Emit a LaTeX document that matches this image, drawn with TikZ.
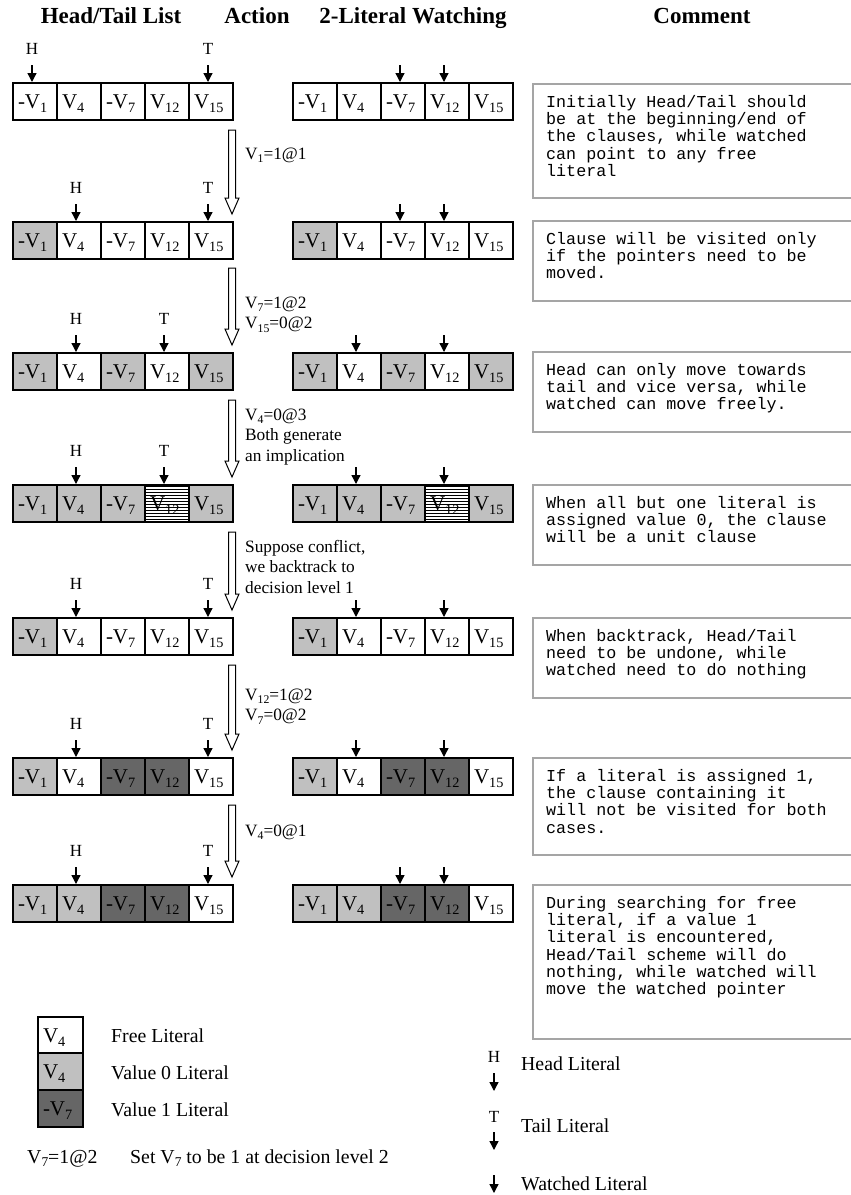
\documentclass[tikz,border=0pt]{standalone}
\usepackage{fontspec}
\usepackage{graphicx}
\setmainfont{Liberation Serif}
\newfontfamily\monofont{Liberation Mono}
\usetikzlibrary{arrows.meta,patterns}
\definecolor{zerogray}{RGB}{192,192,192}
\definecolor{onegray}{RGB}{102,102,102}
\definecolor{boxgray}{RGB}{165,165,165}
\newcommand\subs[1]{\raisebox{-0.2em}{\scalebox{0.68}{#1}}}
\newcommand\cellfont{\fontsize{21}{25}\selectfont}
\newcommand\lblfont{\fontsize{17}{20}\selectfont}
\newcommand\actfont{\fontsize{17.3}{20.3}\selectfont}
\newcommand\legfont{\fontsize{19.8}{23}\selectfont}
\newcommand\headfont{\fontsize{23}{27}\selectfont\bfseries}
\newcommand\comfont{\monofont\fontsize{16.7}{17.3}\selectfont}
\newcommand\cellname[1]{\ifcase#1\or -V\subs{1}\or V\subs{4}\or -V\subs{7}\or V\subs{12}\or V\subs{15}\fi}
\tikzset{
  x=1pt,y=-1pt,
  cell/.style={draw, line width=1.3pt, minimum height=37pt, text width=34pt,
    inner xsep=5pt, inner ysep=0pt, outer sep=0pt, align=left, anchor=north west,
    font=\cellfont, text height=14pt, text depth=0pt},
  free/.style={fill=white},
  zero/.style={fill=zerogray},
  one/.style={fill=onegray},
  hatch/.style={pattern=horizontal lines},
  ptr/.style={line width=1.3pt, -{Triangle[width=9pt,length=9pt]}},
  plabel/.style={font=\lblfont, anchor=base, inner sep=0pt},
  cbox/.style={draw=boxgray, line width=1.5pt, anchor=north west, minimum width=330pt,
    inner sep=0pt, outer sep=0pt},
  ctext/.style={font=\comfont, anchor=north west, align=left, inner sep=0pt},
  hollow/.style={draw, line width=1pt, fill=white},
  act/.style={font=\actfont, anchor=north west, align=left, inner sep=0pt},
  head/.style={font=\headfont, anchor=base, inner sep=0pt},
  leg/.style={font=\legfont, anchor=base west, inner sep=0pt},
}
\newcommand\clauserow[4]{%
  \foreach \sty [count=\i] in {#4} {%
    \pgfmathsetmacro\cx{#2+44*(\i-1)}%
    \node[cell,\sty] (#1c\i) at (\cx,#3) {\cellname{\i}};
  }}
\newcommand\pointer[2]{%
  \draw[ptr] ([xshift=-3pt,yshift=18pt]#1.north) coordinate (#1p) -- ([xshift=-3pt,yshift=1pt]#1.north);}
\newcommand\ptrlabel[2]{%
  \node[plabel] (#1l) at ([xshift=-3pt,yshift=29pt]#1.north) {#2};}
\newcommand\hollowarrow[3]{%
  \draw[hollow] ({#1-3.5},#2) -- ({#1+3.5},#2) -- ({#1+3.5},{#3-16}) -- ({#1+7},{#3-16})
    -- (#1,#3) -- ({#1-7},{#3-16}) -- ({#1-3.5},{#3-16}) -- cycle;}
\begin{document}
\begin{tikzpicture}
\useasboundingbox (0,0) rectangle (851,1195);
% headers
\node[head] (h1) at (111,23) {Head/Tail List};
\node[head] (h2) at (257,23) {Action};
\node[head] (h3) at (413,23) {2-Literal Watching};
\node[head] (h4) at (702,23) {Comment};

% row 1
\clauserow{a}{13}{83}{free,free,free,free,free}
\clauserow{b}{293}{83}{free,free,free,free,free}
\pointer{ac1}{} \ptrlabel{ac1}{H}
\pointer{ac5}{} \ptrlabel{ac5}{T}
\pointer{bc3}{} \pointer{bc4}{}
% row 2
\clauserow{c}{13}{222}{zero,free,free,free,free}
\clauserow{d}{293}{222}{zero,free,free,free,free}
\pointer{cc2}{} \ptrlabel{cc2}{H}
\pointer{cc5}{} \ptrlabel{cc5}{T}
\pointer{dc3}{} \pointer{dc4}{}
% row 3
\clauserow{e}{13}{353}{zero,free,zero,free,zero}
\clauserow{f}{293}{353}{zero,free,zero,free,zero}
\pointer{ec2}{} \ptrlabel{ec2}{H}
\pointer{ec4}{} \ptrlabel{ec4}{T}
\pointer{fc2}{} \pointer{fc4}{}
% row 4
\clauserow{g}{13}{485}{zero,zero,zero,hatch,zero}
\clauserow{k}{293}{485}{zero,zero,zero,hatch,zero}
\pointer{gc2}{} \ptrlabel{gc2}{H}
\pointer{gc4}{} \ptrlabel{gc4}{T}
\pointer{kc2}{} \pointer{kc4}{}
% row 5
\clauserow{m}{13}{618}{zero,free,free,free,free}
\clauserow{n}{293}{618}{zero,free,free,free,free}
\pointer{mc2}{} \ptrlabel{mc2}{H}
\pointer{mc5}{} \ptrlabel{mc5}{T}
\pointer{nc2}{} \pointer{nc4}{}
% row 6
\clauserow{p}{13}{758}{zero,free,one,one,free}
\clauserow{q}{293}{758}{zero,free,one,one,free}
\pointer{pc2}{} \ptrlabel{pc2}{H}
\pointer{pc5}{} \ptrlabel{pc5}{T}
\pointer{qc2}{} \pointer{qc4}{}
% row 7
\clauserow{r}{13}{885}{zero,zero,one,one,free}
\clauserow{s}{293}{885}{zero,zero,one,one,free}
\pointer{rc2}{} \ptrlabel{rc2}{H}
\pointer{rc5}{} \ptrlabel{rc5}{T}
\pointer{sc3}{} \pointer{sc4}{}

% action arrows
\hollowarrow{232}{130}{214}
\hollowarrow{232}{268}{345}
\hollowarrow{232}{400}{477}
\hollowarrow{232}{532}{610}
\hollowarrow{232}{665}{750}
\hollowarrow{232}{805}{877}
\node[act] (a1) at (245,145) {\strut V\subs{1}=1@1};
\node[act] (a2) at (245,294) {\strut V\subs{7}=1@2\\V\subs{15}=0@2};
\node[act] (a3) at (245,406) {\strut V\subs{4}=0@3\\Both generate\\an implication};
\node[act] (a4) at (245,538) {\strut Suppose conflict,\\we backtrack to\\decision level 1};
\node[act] (a5) at (245,686) {\strut V\subs{12}=1@2\\V\subs{7}=0@2};
\node[act] (a6) at (245,822) {\strut V\subs{4}=0@1};

% comments
\node[cbox, minimum height=114pt] (k1) at (533,84) {};
\node[ctext] (t1) at ([xshift=13pt,yshift=-11pt]k1.north west) {\strut Initially Head/Tail should\\be at the beginning/end of\\the clauses, while watched\\can point to any free\\literal};
\node[cbox, minimum height=80pt] (k2) at (533,221) {};
\node[ctext] (t2) at ([xshift=13pt,yshift=-11pt]k2.north west) {\strut Clause will be visited only\\if the pointers need to be\\moved.};
\node[cbox, minimum height=80pt] (k3) at (533,352) {};
\node[ctext] (t3) at ([xshift=13pt,yshift=-11pt]k3.north west) {\strut Head can only move towards\\tail and vice versa, while\\watched can move freely.};
\node[cbox, minimum height=80pt] (k4) at (533,485) {};
\node[ctext] (t4) at ([xshift=13pt,yshift=-11pt]k4.north west) {\strut When all but one literal is\\assigned value 0, the clause\\will be a unit clause};
\node[cbox, minimum height=80pt] (k5) at (533,618) {};
\node[ctext] (t5) at ([xshift=13pt,yshift=-11pt]k5.north west) {\strut When backtrack, Head/Tail\\need to be undone, while\\watched need to do nothing};
\node[cbox, minimum height=97pt] (k6) at (533,758) {};
\node[ctext] (t6) at ([xshift=13pt,yshift=-11pt]k6.north west) {\strut If a literal is assigned 1,\\the clause containing it\\will not be visited for both\\cases.};
\node[cbox, minimum height=154pt] (k7) at (533,885) {};
\node[ctext] (t7) at ([xshift=13pt,yshift=-11pt]k7.north west) {\strut During searching for free\\literal, if a value 1\\literal is encountered,\\Head/Tail scheme will do\\nothing, while watched will\\move the watched pointer};

% legend left
\node[cell,free,minimum width=45pt,text width=35pt] (l1) at (38,1017) {V\subs{4}};
\node[cell,zero,minimum width=45pt,text width=35pt] (l2) at (38,1053) {V\subs{4}};
\node[cell,one,minimum width=45pt,text width=35pt] (l3) at (38,1090) {-V\subs{7}};
\node[leg] (lt1) at (111,1042) {Free Literal};
\node[leg] (lt2) at (111,1079) {Value 0 Literal};
\node[leg] (lt3) at (111,1116) {Value 1 Literal};
\node[leg] (lt4) at (27,1163) {V\subs{7}=1@2};
\node[leg] (lt5) at (130,1163) {Set V\subs{7} to be 1 at decision level 2};

% legend right
\node[plabel] (rh) at (494,1062) {H};
\coordinate (rh1) at (494,1073); \coordinate (rh2) at (494,1091);
\draw[ptr] (rh1) -- (rh2);
\node[leg] (rht) at (521,1070) {Head Literal};
\node[plabel] (rt) at (494,1122) {T};
\coordinate (rt1) at (494,1132); \coordinate (rt2) at (494,1150);
\draw[ptr] (rt1) -- (rt2);
\node[leg] (rtt) at (521,1132) {Tail Literal};
\coordinate (rw1) at (494,1175); \coordinate (rw2) at (494,1193);
\draw[ptr] (rw1) -- (rw2);
\node[leg] (rwt) at (521,1190) {Watched Literal};
\end{tikzpicture}
\end{document}
